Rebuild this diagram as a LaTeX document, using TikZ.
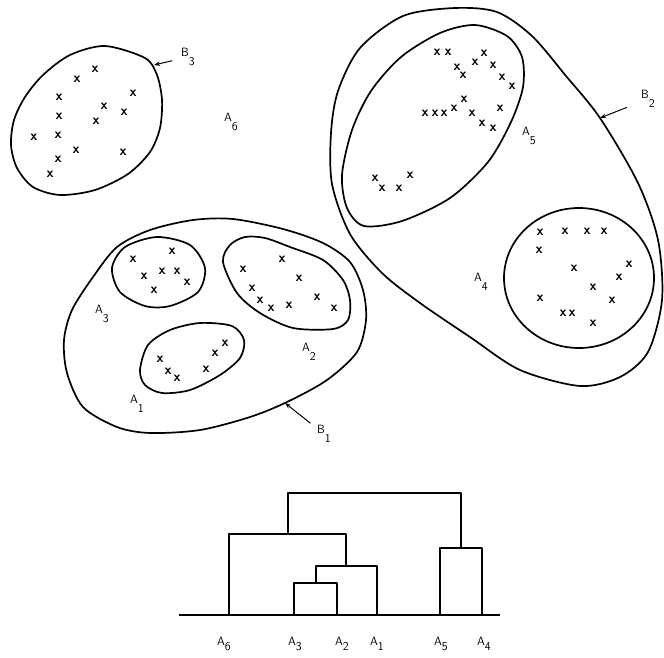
\documentclass[tikz,border=0pt]{standalone}
\usepackage{tikz}
\usetikzlibrary{arrows.meta}
\newcommand{\sublab}[3][9pt]{#2\raisebox{-#1}{#3}}

\begin{document}
\begin{tikzpicture}[x=1pt, y=-1pt, line join=round,
    every node/.style={font=\fontsize{12}{12}\selectfont\sffamily, inner sep=1pt},
    obs/.style={font=\fontsize{14}{14}\selectfont\sffamily\bfseries, inner sep=0pt},
    outline/.style={line width=1.7pt},
    ptr/.style={line width=1pt, -{Stealth[length=6pt,width=4.5pt]}},
    tree/.style={line width=1.5pt}]
  \useasboundingbox (0,0) rectangle (664,657);

  % clusters
  \draw[outline] plot[smooth cycle] coordinates {(105,46) (145,58) (157,75) (162,100) (160,128) (150,152) (128,174) (95,190) (60,195) (33,187) (17,168) (11,145) (14,120) (25,97) (43,75) (70,55)};
  \draw[outline] plot[smooth cycle] coordinates {(72,310) (93,277) (117,247) (150,230) (193,220) (233,219) (283,229) (323,243) (350,262) (363,290) (366,320) (357,352) (327,380) (287,402) (250,417) (200,430) (150,433) (117,427) (83,407) (67,373) (64,340)};
  \draw[outline] plot[smooth cycle] coordinates {(112,268) (125,247) (157,237) (190,245) (205,268) (198,292) (170,306) (145,306) (120,292)};
  \draw[outline] plot[smooth cycle] coordinates {(223,262) (230,245) (245,237) (265,238) (290,247) (323,260) (343,280) (350,300) (348,320) (333,329) (293,328) (260,313) (237,293)};
  \draw[outline] plot[smooth cycle] coordinates {(140,370) (148,345) (170,330) (200,323) (232,326) (244,340) (240,358) (220,375) (190,390) (162,393) (145,385)};
  \draw[outline] plot[smooth cycle] coordinates {(455,8) (497,12) (532,36) (566,76) (600,118) (638,183) (658,240) (662,300) (648,352) (620,377) (580,386) (520,370) (470,337) (420,303) (382,273) (350,234) (332,184) (331,133) (338,91) (360,48) (403,16)};
  \draw[outline] plot[smooth cycle] coordinates {(475,25) (507,36) (522,57) (523,87) (511,122) (488,162) (450,198) (402,221) (364,226) (347,208) (342,175) (352,130) (371,91) (401,57) (440,33)};
  \draw[outline] (579,278) ellipse (75 and 70);

  % points
  \foreach \px/\py [count=\i] in {95/69, 77/79, 59/97, 133/93, 104/106, 59/116, 124/112, 96/121, 34/137, 58/135, 76/150, 123/152, 58/159, 50/174}
    \node[obs] (bthree\i) at (\px,\py) {x};
  \foreach \px/\py [count=\i] in {133/259, 172/251, 144/276, 162/271, 177/271, 187/282, 154/290}
    \node[obs] (athree\i) at (\px,\py) {x};
  \foreach \px/\py [count=\i] in {282/259, 243/269, 299/278, 252/288, 260/300, 271/308, 289/305, 317/297, 334/308}
    \node[obs] (atwo\i) at (\px,\py) {x};
  \foreach \px/\py [count=\i] in {160/359, 168/371, 177/378, 206/369, 215/353, 225/343}
    \node[obs] (aone\i) at (\px,\py) {x};
  \foreach \px/\py [count=\i] in {437/52, 448/52, 457/67, 463/75, 475/62, 484/53, 493/65, 502/77, 512/86, 425/113, 435/113, 444/113, 454/108, 464/99, 472/113, 482/123, 493/128, 500/108, 375/178, 382/188, 399/188, 410/175}
    \node[obs] (afive\i) at (\px,\py) {x};
  \foreach \px/\py [count=\i] in {540/232, 565/231, 587/231, 604/231, 539/250, 574/268, 629/264, 619/277, 593/287, 540/298, 612/300, 563/313, 572/313, 593/323}
    \node[obs] (afour\i) at (\px,\py) {x};

  % labels
  \node (a6) at (231,122) {\sublab{A}{6}};
  \node (a3) at (102,314) {\sublab{A}{3}};
  \node (a2) at (309,352) {\sublab{A}{2}};
  \node (a1) at (137,404) {\sublab{A}{1}};
  \node (a5) at (529,136) {\sublab{A}{5}};
  \node (a4) at (481,282) {\sublab{A}{4}};
  \node (b1) at (324,434) {\sublab{B}{1}};
  \node (b2) at (648,99)  {\sublab{B}{2}};
  \node (b3) at (188,57)  {\sublab{B}{3}};
  \coordinate (b1tip) at (285,403);
  \coordinate (b2tip) at (600,118);
  \coordinate (b3tip) at (154,65);
  \draw[ptr, shorten <=7pt]  (b1) -- (b1tip);
  \draw[ptr, shorten <=14pt] (b2) -- (b2tip);
  \draw[ptr, shorten <=8pt]  (b3) -- (b3tip);

  % dendrogram
  \coordinate (bw) at (179,615);
  \coordinate (be) at (500,615);
  \coordinate (l6) at (229,615);
  \coordinate (l3) at (294,615);
  \coordinate (l2) at (337,615);
  \coordinate (l1) at (377,615);
  \coordinate (l5) at (440,615);
  \coordinate (l4) at (482,615);
  \coordinate (j32)  at (316,583);
  \coordinate (j321) at (346,566);
  \coordinate (j6)   at (288,534);
  \coordinate (j54)  at (461,548);
  \coordinate (jtop) at (374,493);
  \draw[tree] (bw) -- (be);
  \draw[tree] (l3) |- (j32) -| (l2);
  \draw[tree] (j32) |- (j321) -| (l1);
  \draw[tree] (l6) |- (j6) -| (j321);
  \draw[tree] (l5) |- (j54) -| (l4);
  \draw[tree] (j6) |- (jtop) -| (j54);
  \node (t6) at (224,644) {\sublab[5pt]{A}{6}};
  \node (t3) at (295,644) {\sublab[5pt]{A}{3}};
  \node (t2) at (342,644) {\sublab[5pt]{A}{2}};
  \node (t1) at (377,644) {\sublab[5pt]{A}{1}};
  \node (t5) at (441,644) {\sublab[5pt]{A}{5}};
  \node (t4) at (484,644) {\sublab[5pt]{A}{4}};
\end{tikzpicture}
\end{document}
